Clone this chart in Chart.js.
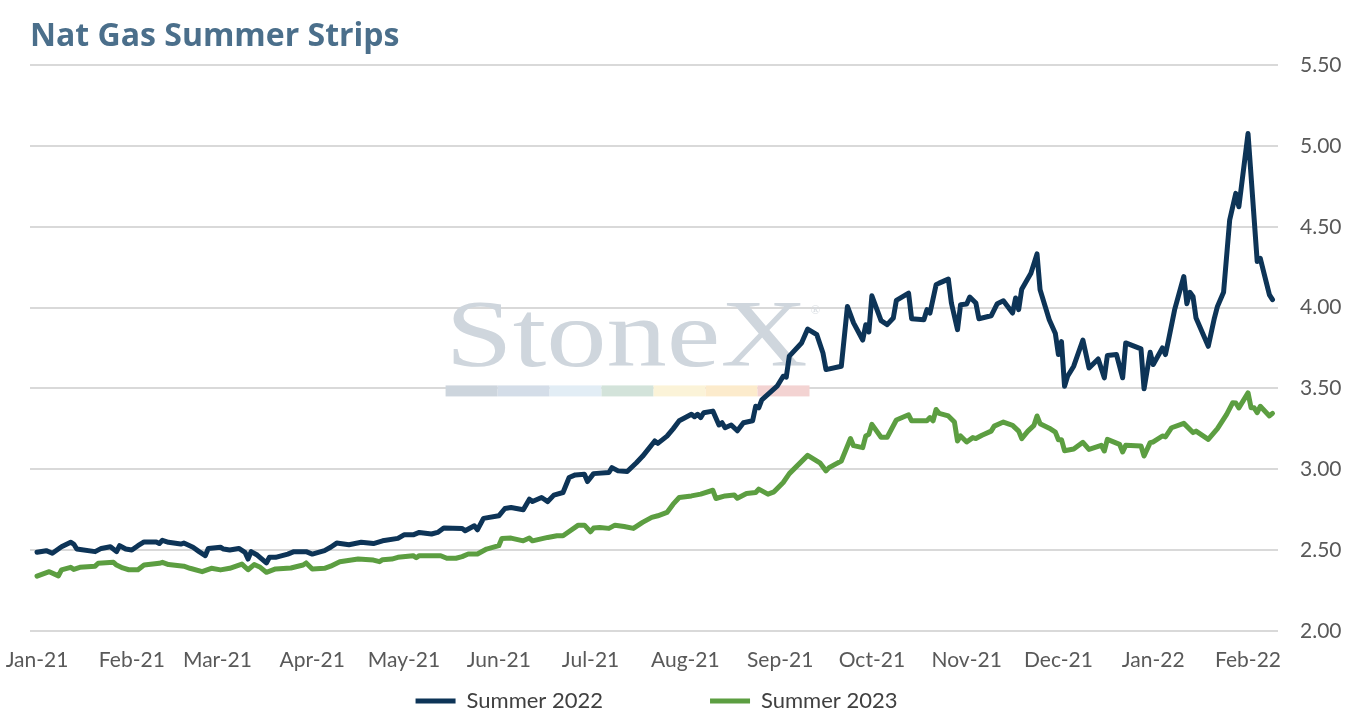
<!DOCTYPE html>
<html>
<head>
<meta charset="utf-8">
<title>Nat Gas Summer Strips</title>
<script src="https://cdn.jsdelivr.net/npm/chart.js@4.4.1/dist/chart.umd.min.js"></script>
<style>
  html, body { margin: 0; padding: 0; background: #ffffff; }
  #wrap { width: 1345px; height: 720px; }
</style>
</head>
<body>
<div id="wrap"><canvas id="chart-strips"></canvas></div>
<script>
// days counted from 1 Jan 2021
const monthDays = [0, 31, 59, 90, 120, 151, 181, 212, 243, 273, 304, 334, 365, 396];
const monthLabels = ["Jan-21", "Feb-21", "Mar-21", "Apr-21", "May-21", "Jun-21", "Jul-21",
  "Aug-21", "Sep-21", "Oct-21", "Nov-21", "Dec-21", "Jan-22", "Feb-22"];

const summer22Days = [0, 3, 5, 8, 11, 12, 13, 19, 21, 24, 26, 27, 29, 31, 33, 35, 39, 40, 41, 43,
  47, 48, 51, 53, 55, 56, 60, 61, 63, 66, 68, 69, 70, 72, 75, 76, 78, 82, 84, 88,
  90, 94, 96, 98, 102, 106, 110, 113, 118, 120, 123, 125, 129, 131, 133, 139, 140, 143, 144, 146,
  151, 153, 155, 159, 161, 162, 165, 167, 169, 172, 174, 176, 179, 180, 182, 187, 188, 190, 193, 196,
  198, 202, 203, 206, 208, 210, 214, 215, 216, 217, 218, 221, 223, 224, 225, 227, 229, 231, 234, 235,
  236, 237, 242, 244, 245, 246, 250, 252, 255, 257, 258, 263, 265, 267, 270, 271, 272, 273, 276, 278,
  280, 281, 285, 286, 290, 291, 292, 294, 295, 298, 299, 301, 302, 304, 305, 307, 308, 312, 314, 316,
  319, 320, 321, 322, 325, 327, 328, 331, 333, 334, 335, 336, 337, 339, 342, 344, 347, 349, 350, 353,
  355, 356, 361, 362, 364, 365, 368, 369, 370, 372, 375, 376, 377, 378, 379, 383, 385, 386, 388, 390,
  392, 393, 396, 399, 400, 403, 404];
const summer22 = [2.486, 2.496, 2.48, 2.52, 2.548, 2.537, 2.506, 2.49, 2.51, 2.52, 2.49, 2.527, 2.506, 2.50, 2.527, 2.55, 2.55, 2.54, 2.56, 2.548,
  2.537, 2.543, 2.517, 2.49, 2.465, 2.51, 2.517, 2.506, 2.50, 2.51, 2.486, 2.444, 2.49, 2.469, 2.42, 2.455, 2.455, 2.475, 2.49, 2.49,
  2.475, 2.496, 2.517, 2.543, 2.533, 2.548, 2.54, 2.557, 2.572, 2.594, 2.594, 2.609, 2.599, 2.609, 2.636, 2.634, 2.619, 2.65, 2.625, 2.696,
  2.712, 2.757, 2.763, 2.749, 2.815, 2.80, 2.825, 2.80, 2.84, 2.856, 2.949, 2.965, 2.969, 2.924, 2.973, 2.98, 3.01, 2.99, 2.986, 3.04,
  3.08, 3.175, 3.16, 3.205, 3.25, 3.30, 3.34, 3.325, 3.34, 3.32, 3.35, 3.36, 3.274, 3.288, 3.257, 3.274, 3.238, 3.288, 3.30, 3.39,
  3.38, 3.43, 3.514, 3.576, 3.57, 3.70, 3.782, 3.868, 3.833, 3.72, 3.617, 3.638, 4.008, 3.906, 3.80, 3.895, 3.85, 4.074, 3.92, 3.895,
  3.936, 4.045, 4.09, 3.932, 3.926, 3.988, 3.967, 4.142, 4.152, 4.177, 4.029, 3.864, 4.019, 4.023, 4.066, 4.029, 3.932, 3.95, 4.025, 4.043,
  3.967, 4.06, 3.988, 4.115, 4.214, 4.333, 4.111, 3.926, 3.84, 3.71, 3.79, 3.514, 3.576, 3.638, 3.80, 3.627, 3.683, 3.566, 3.704, 3.71,
  3.566, 3.782, 3.745, 3.498, 3.724, 3.648, 3.751, 3.71, 3.80, 3.988, 4.193, 4.025, 4.095, 4.07, 3.936, 3.761, 3.936, 4.008, 4.095, 4.543,
  4.708, 4.625, 5.078, 4.286, 4.306, 4.08, 4.05];

const summer23Days = [0, 4, 7, 8, 11, 12, 14, 19, 20, 25, 26, 28, 30, 33, 35, 40, 41, 43, 48, 50,
  54, 57, 60, 63, 67, 69, 71, 73, 75, 78, 83, 87, 88, 90, 94, 96, 99, 105, 110, 112,
  113, 116, 118, 123, 124, 125, 132, 134, 137, 139, 141, 144, 147, 151, 152, 155, 159, 161, 162, 167,
  170, 172, 174, 177, 179, 181, 182, 184, 187, 189, 192, 195, 198, 201, 203, 206, 208, 210, 214, 217,
  221, 222, 225, 228, 229, 232, 235, 236, 239, 241, 244, 246, 252, 256, 258, 259, 263, 266, 267, 270,
  271, 272, 273, 276, 278, 281, 285, 286, 291, 292, 293, 294, 295, 298, 300, 301, 302, 304, 306, 307,
  309, 312, 313, 316, 319, 321, 322, 324, 326, 327, 328, 331, 333, 334, 335, 336, 339, 342, 344, 348,
  349, 350, 354, 355, 356, 361, 362, 364, 365, 368, 369, 371, 375, 378, 379, 383, 386, 389, 391, 392,
  393, 396, 397, 398, 399, 400, 403, 404];
const summer23 = [2.338, 2.366, 2.34, 2.377, 2.393, 2.38, 2.393, 2.40, 2.418, 2.424, 2.407, 2.389, 2.378, 2.378, 2.407, 2.418, 2.424, 2.41, 2.40, 2.387,
  2.366, 2.387, 2.377, 2.387, 2.413, 2.378, 2.41, 2.393, 2.362, 2.383, 2.389, 2.407, 2.42, 2.383, 2.387, 2.40, 2.428, 2.444, 2.438, 2.428,
  2.44, 2.444, 2.455, 2.465, 2.452, 2.465, 2.465, 2.449, 2.449, 2.459, 2.475, 2.475, 2.506, 2.527, 2.572, 2.574, 2.557, 2.574, 2.557, 2.578,
  2.588, 2.588, 2.615, 2.654, 2.654, 2.613, 2.636, 2.64, 2.634, 2.654, 2.646, 2.634, 2.671, 2.702, 2.712, 2.733, 2.784, 2.825, 2.835, 2.846,
  2.87, 2.819, 2.835, 2.841, 2.821, 2.85, 2.856, 2.877, 2.846, 2.86, 2.918, 2.973, 3.086, 3.04, 2.99, 3.01, 3.051, 3.19, 3.146, 3.134,
  3.206, 3.216, 3.278, 3.198, 3.198, 3.305, 3.337, 3.30, 3.30, 3.32, 3.30, 3.37, 3.346, 3.33, 3.292, 3.175, 3.206, 3.169, 3.196, 3.19,
  3.21, 3.236, 3.267, 3.292, 3.272, 3.236, 3.19, 3.236, 3.272, 3.33, 3.282, 3.254, 3.23, 3.183, 3.183, 3.115, 3.125, 3.167, 3.123, 3.148,
  3.113, 3.185, 3.154, 3.107, 3.148, 3.144, 3.082, 3.165, 3.169, 3.206, 3.20, 3.257, 3.284, 3.227, 3.236, 3.185, 3.251, 3.34, 3.412, 3.41,
  3.38, 3.473, 3.38, 3.38, 3.35, 3.39, 3.33, 3.346];

const yTicks = [2.0, 2.5, 3.0, 3.5, 4.0, 4.5, 5.0, 5.5];

const toPoints = (days, vals) => days.map((d, i) => ({ x: d, y: vals[i] }));

// faint StoneX logo behind the lines
const watermark = {
  id: "watermark",
  beforeDatasetsDraw(chart) {
    const { ctx, chartArea: a } = chart;
    const left = a.left + a.width * 0.333;
    const right = a.left + a.width * 0.623;
    const w = right - left;
    ctx.save();
    ctx.textAlign = "left";
    ctx.textBaseline = "alphabetic";
    ctx.fillStyle = "#cfd6dd";
    ctx.font = "96px 'Liberation Serif'";
    const tw = ctx.measureText("StoneX").width;
    const base = a.top + a.height * 0.531;
    ctx.translate(left, base);
    ctx.scale(w / tw, 1);
    ctx.fillText("StoneX", 0, 0);
    ctx.restore();
    ctx.save();
    ctx.textAlign = "left";
    ctx.textBaseline = "alphabetic";
    ctx.fillStyle = "#d8dde2";
    ctx.font = "13px 'Liberation Serif'";
    ctx.fillText("®", right + 3, a.top + a.height * 0.44);
    const stripes = ["#cdd5dd", "#d4dde8", "#e2edf5", "#d3e3da", "#fbf3d8", "#fcebcc", "#f3d3d2"];
    const sw = (w + 2) / stripes.length;
    const sy = a.top + a.height * 0.566;
    stripes.forEach((c, i) => {
      ctx.fillStyle = c;
      ctx.fillRect(left + i * sw, sy, sw, 11);
    });
    ctx.restore();
  }
};

const strips = document.getElementById("chart-strips");

new Chart(strips, {
  type: "line",
  data: {
    datasets: [
      {
        label: "Summer 2022",
        data: toPoints(summer22Days, summer22),
        borderColor: "#0d3457",
        backgroundColor: "#0d3457",
        borderWidth: 5,
        pointRadius: 0,
        tension: 0,
        borderJoinStyle: "round",
        borderCapStyle: "round",
      },
      {
        label: "Summer 2023",
        data: toPoints(summer23Days, summer23),
        borderColor: "#5c9e41",
        backgroundColor: "#5c9e41",
        borderWidth: 5,
        pointRadius: 0,
        tension: 0,
        borderJoinStyle: "round",
        borderCapStyle: "round",
      },
    ],
  },
  options: {
    responsive: true,
    maintainAspectRatio: false,
    animation: false,
    layout: {
      padding: { left: 30, right: 0, top: 0, bottom: -2 },
    },
    scales: {
      x: {
        type: "linear",
        min: -2.3,
        max: 405.8,
        grid: { display: false },
        border: { display: false },
        afterBuildTicks: (axis) => {
          axis.ticks = monthDays.map(v => ({ value: v }));
        },
        afterFit: (axis) => {
          axis.paddingLeft = 0;
          axis.paddingRight = 0;
          axis.height += 8;
        },
        ticks: {
          autoSkip: false,
          maxRotation: 0,
          padding: 9,
          color: "#595959",
          font: { family: "Lato", size: 21 },
          callback: (value) => monthLabels[monthDays.indexOf(value)],
        },
      },
      y: {
        position: "right",
        min: 2.0,
        max: 5.5,
        afterBuildTicks: (axis) => {
          axis.ticks = yTicks.map(v => ({ value: v }));
        },
        afterFit: (axis) => {
          axis.width = 67;
          axis.paddingTop = 0;
          axis.paddingBottom = 0;
        },
        grid: { color: "#d9d9d9", lineWidth: 2, drawTicks: false },
        border: { display: false },
        ticks: {
          padding: 22,
          color: "#595959",
          font: { family: "Lato", size: 21 },
          callback: (value) => value.toFixed(2),
        },
      },
    },
    plugins: {
      title: {
        display: true,
        text: "Nat Gas Summer Strips",
        align: "start",
        color: "#4b6f8b",
        font: { family: "Open Sans", size: 32, weight: "bold" },
        padding: { top: 18, bottom: 9 },
        fullSize: true,
      },
      legend: {
        position: "bottom",
        labels: {
          usePointStyle: true,
          pointStyle: "line",
          pointStyleWidth: 40,
          padding: 0,
          color: "#404040",
          font: { family: "Lato", size: 22 },
          generateLabels: (chart) => {
            const items = Chart.defaults.plugins.legend.labels.generateLabels(chart);
            // wide gap between the two entries, and keep the pair centred under the plot
            items[0].text = items[0].text + " ".repeat(19);
            items[1].text = items[1].text + " ".repeat(11);
            return items;
          },
        },
      },
      tooltip: { enabled: false },
    },
  },
  plugins: [watermark],
});
</script>
</body>
</html>
